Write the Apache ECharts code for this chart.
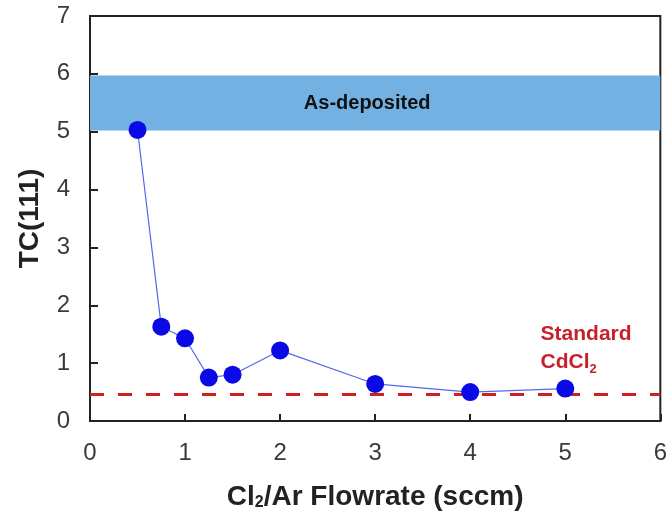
<!DOCTYPE html>
<html>
<head>
<meta charset="utf-8">
<script src="https://cdn.jsdelivr.net/npm/echarts@6/dist/echarts.min.js"></script>
<style>
  html, body { margin: 0; padding: 0; background: #fff; }
  #myChart { width: 670px; height: 516px; }
</style>
</head>
<body>
<div id="myChart"></div>
<script>
// flowrate (sccm) and TC(111)
const flowrate = [0.5, 0.75, 1.0, 1.25, 1.5, 2.0, 3.0, 4.0, 5.0];
const tc111 = [5.03, 1.63, 1.43, 0.75, 0.80, 1.22, 0.64, 0.50, 0.56];
// as-deposited band and standard CdCl2 reference
const asDepBand = [5.02, 5.97];
const standardLevel = [0.47];
const standardLabelAt = [4.74, 1.26];

const fontFam = '"Liberation Sans", Arial, sans-serif';

let myChart = echarts.init(document.getElementById('myChart'));
myChart.setOption({
  animation: false,
  grid: {
    left: 90,
    right: 8,
    top: 16,
    bottom: 93,
    show: true,
    borderColor: '#222',
    borderWidth: 2
  },
  xAxis: {
    type: 'value',
    min: 0,
    max: 6,
    interval: 1,
    name: 'Cl{sub|2}/Ar Flowrate (sccm)',
    nameLocation: 'middle',
    nameGap: 62,
    nameTextStyle: {
      fontFamily: fontFam,
      fontSize: 28,
      fontWeight: 'bold',
      color: '#222',
      rich: {
        sub: { fontSize: 16, fontWeight: 'bold', color: '#222', fontFamily: fontFam, verticalAlign: 'bottom', padding: [12, 0, 0, 0] }
      }
    },
    axisLine: { lineStyle: { color: '#222', width: 2 } },
    axisTick: { inside: true, length: 7, lineStyle: { color: '#222', width: 2 } },
    axisLabel: { fontFamily: fontFam, fontSize: 24, color: '#3a3a3a', margin: 20 },
    splitLine: { show: false }
  },
  yAxis: {
    type: 'value',
    min: 0,
    max: 7,
    interval: 1,
    name: 'TC(111)',
    nameLocation: 'middle',
    nameGap: 46,
    nameTextStyle: { fontFamily: fontFam, fontSize: 28, fontWeight: 'bold', color: '#222' },
    axisLine: { show: true, lineStyle: { color: '#222', width: 2 } },
    axisTick: { show: true, inside: true, length: 8, lineStyle: { color: '#222', width: 2 } },
    axisLabel: { fontFamily: fontFam, fontSize: 24, color: '#3a3a3a', margin: 20 },
    splitLine: { show: false }
  },
  series: [{
    type: 'line',
    data: flowrate.map((x, i) => [x, tc111[i]]),
    symbol: 'circle',
    symbolSize: 18,
    z: 5,
    lineStyle: { color: '#5466f0', width: 1.2 },
    itemStyle: { color: '#0a0ae6' },
    markArea: {
      silent: true,
      itemStyle: { color: '#72b1e2' },
      label: {
        show: true,
        position: 'inside',
        offset: [-8, 0],
        fontFamily: fontFam,
        fontSize: 20,
        fontWeight: 'bold',
        color: '#111'
      },
      data: [[{ yAxis: asDepBand[0], name: 'As-deposited' }, { yAxis: asDepBand[1] }]]
    },
    markLine: {
      silent: true,
      symbol: ['none', 'none'],
      label: { show: false },
      lineStyle: { color: '#d02020', type: [14, 14], width: 3 },
      data: [{ yAxis: standardLevel[0] }]
    },
    markPoint: {
      silent: true,
      symbolSize: 0,
      data: [{
        coord: standardLabelAt,
        label: {
          show: true,
          formatter: 'Standard\n{n|CdCl}{sub|2}',
          fontFamily: fontFam,
          fontSize: 21,
          fontWeight: 'bold',
          color: '#c8202a',
          align: 'left',
          lineHeight: 28,
          rich: {
            n: { fontFamily: fontFam, fontSize: 21, fontWeight: 'bold', color: '#c8202a', lineHeight: 28 },
            sub: { fontFamily: fontFam, fontSize: 13, fontWeight: 'bold', color: '#c8202a', verticalAlign: 'bottom', padding: [10, 0, 0, 0] }
          }
        }
      }]
    }
  }]
});
window.addEventListener('resize', () => {
  myChart.resize();
});
</script>
</body>
</html>
